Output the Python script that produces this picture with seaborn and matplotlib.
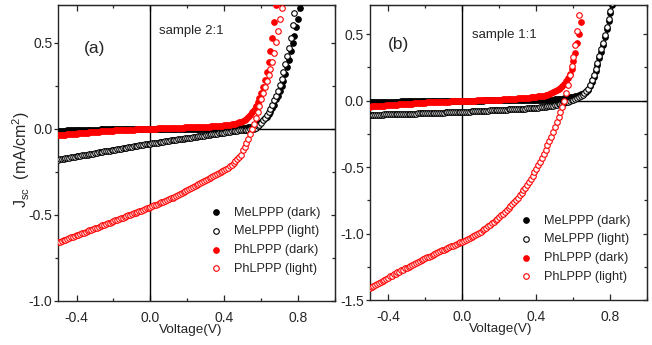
import numpy as np
import pandas as pd
import matplotlib
matplotlib.use("Agg")
import matplotlib.pyplot as plt
import seaborn as sns
from matplotlib.ticker import MultipleLocator

# bias sweep: 10 mV steps starting at -0.5 V (each curve stops where it leaves the frame)
voltage = np.round(np.arange(-0.50, 1.001, 0.01), 2)

# ---- sample 2:1 (panel a), J in mA/cm2 ----
a_me_dark = [
    -0.012, -0.012, -0.011, -0.011, -0.011, -0.010, -0.010, -0.010, -0.009, -0.009,
    -0.009, -0.008, -0.008, -0.008, -0.007, -0.007, -0.007, -0.006, -0.006, -0.006,
    -0.005, -0.005, -0.005, -0.004, -0.004, -0.004, -0.004, -0.003, -0.003, -0.003,
    -0.003, -0.002, -0.002, -0.002, -0.002, -0.002, -0.001, -0.001, -0.001, -0.001,
    -0.001, -0.001, -0.001, 0.000, 0.000, 0.000, 0.000, 0.000, 0.000, 0.000,
    0.000, 0.000, 0.000, 0.000, 0.000, 0.000, 0.000, 0.000, 0.000, 0.000,
    0.000, 0.000, 0.000, 0.000, 0.000, 0.001, 0.001, 0.001, 0.001, 0.001,
    0.001, 0.001, 0.001, 0.001, 0.001, 0.001, 0.001, 0.001, 0.001, 0.001,
    0.001, 0.001, 0.001, 0.001, 0.002, 0.002, 0.002, 0.002, 0.002, 0.002,
    0.002, 0.002, 0.002, 0.002, 0.003, 0.003, 0.003, 0.003, 0.004, 0.004,
    0.004, 0.005, 0.006, 0.008, 0.010, 0.012, 0.016, 0.020, 0.026, 0.032,
    0.040, 0.050, 0.060, 0.070, 0.085, 0.100, 0.120, 0.140, 0.170, 0.190,
    0.220, 0.250, 0.280, 0.320, 0.360, 0.400, 0.450, 0.500, 0.540, 0.590,
    0.640, 0.700, 0.760,
]
a_me_light = [
    -0.180, -0.178, -0.176, -0.174, -0.172, -0.170, -0.169, -0.167, -0.165, -0.163,
    -0.161, -0.159, -0.157, -0.155, -0.153, -0.151, -0.150, -0.148, -0.146, -0.144,
    -0.142, -0.140, -0.138, -0.136, -0.134, -0.132, -0.131, -0.129, -0.127, -0.125,
    -0.123, -0.121, -0.119, -0.117, -0.115, -0.114, -0.112, -0.110, -0.108, -0.106,
    -0.104, -0.102, -0.100, -0.098, -0.096, -0.095, -0.093, -0.091, -0.089, -0.087,
    -0.086, -0.084, -0.083, -0.081, -0.080, -0.078, -0.076, -0.075, -0.073, -0.072,
    -0.070, -0.068, -0.067, -0.065, -0.064, -0.062, -0.060, -0.059, -0.057, -0.056,
    -0.054, -0.052, -0.051, -0.049, -0.048, -0.046, -0.044, -0.043, -0.041, -0.040,
    -0.038, -0.036, -0.035, -0.033, -0.032, -0.030, -0.028, -0.027, -0.025, -0.024,
    -0.022, -0.021, -0.019, -0.018, -0.016, -0.015, -0.013, -0.012, -0.010, -0.009,
    -0.008, -0.007, -0.006, -0.005, -0.004, -0.002, 0.000, 0.006, 0.014, 0.024,
    0.036, 0.048, 0.062, 0.078, 0.095, 0.115, 0.140, 0.165, 0.190, 0.220,
    0.255, 0.290, 0.330, 0.375, 0.420, 0.470, 0.530, 0.600, 0.670, 0.740,
]
a_ph_dark = [
    -0.038, -0.037, -0.036, -0.035, -0.034, -0.033, -0.032, -0.031, -0.030, -0.029,
    -0.028, -0.027, -0.026, -0.025, -0.024, -0.023, -0.022, -0.021, -0.020, -0.019,
    -0.018, -0.017, -0.017, -0.016, -0.015, -0.014, -0.014, -0.013, -0.012, -0.012,
    -0.011, -0.010, -0.010, -0.009, -0.009, -0.008, -0.008, -0.007, -0.007, -0.006,
    -0.005, -0.005, -0.004, -0.004, -0.003, -0.003, -0.002, -0.002, -0.001, -0.001,
    0.000, 0.000, 0.001, 0.001, 0.002, 0.002, 0.002, 0.003, 0.003, 0.004,
    0.004, 0.004, 0.005, 0.005, 0.006, 0.006, 0.006, 0.007, 0.007, 0.008,
    0.008, 0.008, 0.009, 0.009, 0.010, 0.010, 0.010, 0.011, 0.011, 0.012,
    0.012, 0.013, 0.013, 0.014, 0.014, 0.015, 0.016, 0.016, 0.017, 0.018,
    0.020, 0.021, 0.022, 0.024, 0.025, 0.027, 0.030, 0.033, 0.037, 0.041,
    0.045, 0.050, 0.058, 0.068, 0.080, 0.095, 0.110, 0.130, 0.155, 0.180,
    0.210, 0.245, 0.285, 0.330, 0.385, 0.450, 0.530, 0.620, 0.720,
]
a_ph_light = [
    -0.660, -0.656, -0.652, -0.648, -0.644, -0.640, -0.635, -0.631, -0.627, -0.623,
    -0.619, -0.615, -0.611, -0.607, -0.603, -0.599, -0.594, -0.590, -0.586, -0.582,
    -0.578, -0.574, -0.570, -0.566, -0.562, -0.558, -0.553, -0.549, -0.545, -0.541,
    -0.537, -0.533, -0.529, -0.525, -0.521, -0.517, -0.512, -0.508, -0.504, -0.500,
    -0.496, -0.492, -0.488, -0.484, -0.480, -0.476, -0.471, -0.467, -0.463, -0.459,
    -0.455, -0.451, -0.446, -0.442, -0.437, -0.433, -0.428, -0.424, -0.419, -0.415,
    -0.410, -0.405, -0.400, -0.394, -0.389, -0.384, -0.378, -0.372, -0.367, -0.361,
    -0.355, -0.350, -0.344, -0.339, -0.333, -0.328, -0.322, -0.317, -0.311, -0.306,
    -0.300, -0.294, -0.289, -0.283, -0.277, -0.271, -0.265, -0.259, -0.253, -0.247,
    -0.240, -0.233, -0.226, -0.218, -0.210, -0.200, -0.189, -0.177, -0.164, -0.150,
    -0.125, -0.105, -0.082, -0.058, -0.030, 0.000, 0.030, 0.065, 0.100, 0.135,
    0.170, 0.205, 0.240, 0.275, 0.310, 0.345, 0.385, 0.440, 0.505, 0.570,
    0.635, 0.700, 0.770,
]

# ---- sample 1:1 (panel b) ----
b_me_dark = [
    -0.012, -0.012, -0.011, -0.011, -0.011, -0.010, -0.010, -0.010, -0.009, -0.009,
    -0.009, -0.008, -0.008, -0.008, -0.007, -0.007, -0.007, -0.006, -0.006, -0.006,
    -0.005, -0.005, -0.005, -0.005, -0.004, -0.004, -0.004, -0.004, -0.003, -0.003,
    -0.003, -0.003, -0.002, -0.002, -0.002, -0.002, -0.002, -0.001, -0.001, -0.001,
    -0.001, -0.001, -0.001, -0.001, 0.000, 0.000, 0.000, 0.000, 0.000, 0.000,
    0.000, 0.000, 0.000, 0.000, 0.000, 0.000, 0.000, 0.000, 0.000, 0.000,
    0.000, 0.000, 0.001, 0.001, 0.001, 0.001, 0.001, 0.001, 0.001, 0.001,
    0.001, 0.001, 0.001, 0.001, 0.001, 0.001, 0.001, 0.001, 0.001, 0.001,
    0.002, 0.002, 0.002, 0.002, 0.002, 0.002, 0.002, 0.002, 0.002, 0.002,
    0.003, 0.003, 0.003, 0.004, 0.004, 0.005, 0.005, 0.006, 0.007, 0.008,
    0.009, 0.010, 0.011, 0.013, 0.015, 0.017, 0.020, 0.023, 0.026, 0.028,
    0.030, 0.034, 0.038, 0.042, 0.047, 0.052, 0.058, 0.066, 0.082, 0.108,
    0.142, 0.180, 0.224, 0.270, 0.318, 0.368, 0.418, 0.475, 0.535, 0.595,
    0.655, 0.715,
]
b_me_light = [
    -0.108, -0.108, -0.107, -0.107, -0.106, -0.106, -0.105, -0.105, -0.104, -0.104,
    -0.103, -0.103, -0.103, -0.102, -0.102, -0.101, -0.101, -0.100, -0.100, -0.099,
    -0.099, -0.098, -0.098, -0.097, -0.097, -0.097, -0.096, -0.096, -0.095, -0.095,
    -0.094, -0.094, -0.093, -0.093, -0.092, -0.092, -0.091, -0.091, -0.091, -0.090,
    -0.090, -0.089, -0.089, -0.088, -0.088, -0.087, -0.087, -0.086, -0.086, -0.085,
    -0.085, -0.084, -0.084, -0.083, -0.082, -0.081, -0.081, -0.080, -0.079, -0.078,
    -0.078, -0.077, -0.076, -0.075, -0.075, -0.074, -0.073, -0.072, -0.072, -0.071,
    -0.070, -0.069, -0.069, -0.068, -0.067, -0.066, -0.066, -0.065, -0.064, -0.063,
    -0.063, -0.062, -0.061, -0.060, -0.060, -0.059, -0.058, -0.057, -0.057, -0.056,
    -0.055, -0.053, -0.051, -0.049, -0.047, -0.045, -0.043, -0.041, -0.039, -0.037,
    -0.035, -0.032, -0.029, -0.026, -0.022, -0.018, -0.014, -0.009, -0.004, 0.001,
    0.007, 0.013, 0.020, 0.028, 0.036, 0.045, 0.056, 0.070, 0.090, 0.120,
    0.155, 0.195, 0.240, 0.285, 0.335, 0.385, 0.435, 0.495, 0.555, 0.615,
    0.675, 0.735,
]
b_ph_dark = [
    -0.045, -0.044, -0.043, -0.042, -0.041, -0.040, -0.039, -0.038, -0.037, -0.036,
    -0.035, -0.034, -0.033, -0.032, -0.031, -0.030, -0.029, -0.028, -0.027, -0.026,
    -0.025, -0.024, -0.023, -0.022, -0.021, -0.020, -0.019, -0.018, -0.017, -0.016,
    -0.015, -0.014, -0.014, -0.013, -0.012, -0.012, -0.011, -0.010, -0.010, -0.009,
    -0.008, -0.008, -0.007, -0.007, -0.006, -0.006, -0.005, -0.005, -0.004, -0.004,
    -0.003, -0.003, -0.002, -0.002, -0.001, -0.001, 0.000, 0.000, 0.001, 0.001,
    0.002, 0.002, 0.003, 0.003, 0.004, 0.004, 0.005, 0.005, 0.006, 0.007,
    0.008, 0.008, 0.009, 0.010, 0.010, 0.011, 0.012, 0.013, 0.014, 0.015,
    0.016, 0.017, 0.018, 0.019, 0.020, 0.021, 0.022, 0.024, 0.026, 0.028,
    0.030, 0.032, 0.034, 0.036, 0.038, 0.040, 0.045, 0.050, 0.056, 0.063,
    0.070, 0.078, 0.087, 0.097, 0.110, 0.125, 0.145, 0.170, 0.200, 0.240,
    0.300, 0.360, 0.430, 0.500, 0.590,
]
b_ph_light = [
    -1.410, -1.402, -1.394, -1.386, -1.378, -1.370, -1.362, -1.354, -1.346, -1.338,
    -1.330, -1.322, -1.315, -1.307, -1.300, -1.292, -1.285, -1.277, -1.270, -1.262,
    -1.255, -1.248, -1.241, -1.234, -1.227, -1.220, -1.213, -1.206, -1.199, -1.192,
    -1.185, -1.178, -1.172, -1.165, -1.159, -1.152, -1.146, -1.139, -1.133, -1.126,
    -1.120, -1.114, -1.108, -1.102, -1.096, -1.090, -1.084, -1.078, -1.072, -1.066,
    -1.060, -1.053, -1.045, -1.038, -1.030, -1.023, -1.015, -1.008, -1.000, -0.993,
    -0.985, -0.975, -0.965, -0.955, -0.945, -0.934, -0.923, -0.912, -0.900, -0.888,
    -0.876, -0.863, -0.850, -0.836, -0.822, -0.808, -0.793, -0.778, -0.762, -0.746,
    -0.729, -0.712, -0.694, -0.675, -0.655, -0.634, -0.612, -0.589, -0.565, -0.540,
    -0.514, -0.487, -0.459, -0.430, -0.400, -0.369, -0.337, -0.304, -0.270, -0.235,
    -0.199, -0.162, -0.124, -0.085, -0.045, -0.004, 0.060, 0.120, 0.190, 0.260,
    0.330, 0.420, 0.520, 0.640, 0.760,
]

series_names = ["MeLPPP (dark)", "MeLPPP (light)", "PhLPPP (dark)", "PhLPPP (light)"]
series_colors = ["black", "black", "red", "red"]
series_filled = [True, False, True, False]


def to_frame(curves):
    parts = []
    for name, j in zip(series_names, curves):
        parts.append(pd.DataFrame({"Voltage": voltage[:len(j)], "J": j, "series": name}))
    return pd.concat(parts, ignore_index=True)


df_a = to_frame([a_me_dark, a_me_light, a_ph_dark, a_ph_light])
df_b = to_frame([b_me_dark, b_me_light, b_ph_dark, b_ph_light])

sns.set_style("ticks")
plt.rcParams["font.family"] = ["Liberation Sans", "DejaVu Sans"]
plt.rcParams["axes.unicode_minus"] = False
plt.rcParams["mathtext.fontset"] = "custom"
plt.rcParams["mathtext.rm"] = "Liberation Sans"
plt.rcParams["mathtext.it"] = "Liberation Sans:italic"

fig = plt.figure(figsize=(6.52, 3.45), dpi=100)
ax_a = fig.add_axes([0.089, 0.128, 0.425, 0.858])
ax_b = fig.add_axes([0.567, 0.130, 0.426, 0.856])


def draw_panel(ax, df, ylim, tag, tag_xy, sample, sample_xy, leg_anchor, xlab_x):
    ax.axhline(0, color="black", lw=1.0, zorder=1)
    ax.axvline(0, color="black", lw=1.0, zorder=1)
    for name, c, filled in zip(series_names, series_colors, series_filled):
        sub = df[df["series"] == name]
        sns.scatterplot(data=sub, x="Voltage", y="J", ax=ax, s=16, marker="o",
                        color=c, edgecolor=c, facecolor=c if filled else "white",
                        linewidth=0.8, label=name, zorder=3)
    ax.set_xlim(-0.5, 1.0)
    ax.set_ylim(*ylim)
    ax.xaxis.set_major_locator(MultipleLocator(0.4))
    ax.xaxis.set_minor_locator(MultipleLocator(0.2))
    ax.yaxis.set_major_locator(MultipleLocator(0.5))
    ax.yaxis.set_minor_locator(MultipleLocator(0.25))
    ax.xaxis.set_major_formatter(lambda v, p: f"{v:.1f}")
    ax.yaxis.set_major_formatter(lambda v, p: f"{v:.1f}")
    ax.tick_params(axis="x", which="both", direction="in", labelsize=10, pad=7)
    ax.tick_params(axis="y", which="both", direction="out", labelsize=10, pad=0.8)
    ax.tick_params(axis="x", which="major", length=4, width=0.9)
    ax.tick_params(axis="x", which="minor", length=2.2, width=0.9)
    ax.tick_params(axis="y", which="major", length=3.2, width=0.9)
    ax.tick_params(axis="y", which="minor", length=2.0, width=0.9)
    # mirrored ticks on the top and right frame
    top = ax.secondary_xaxis("top")
    top.xaxis.set_major_locator(MultipleLocator(0.4))
    top.xaxis.set_minor_locator(MultipleLocator(0.2))
    top.tick_params(which="both", direction="in", labeltop=False)
    top.tick_params(which="major", length=4, width=0.9)
    top.tick_params(which="minor", length=2.2, width=0.9)
    right = ax.secondary_yaxis("right")
    right.yaxis.set_major_locator(MultipleLocator(0.5))
    right.yaxis.set_minor_locator(MultipleLocator(0.25))
    right.tick_params(which="both", direction="in", labelright=False)
    right.tick_params(which="major", length=3, width=0.9)
    right.tick_params(which="minor", length=2, width=0.9)
    for sp in ax.spines.values():
        sp.set_linewidth(1.0)
    ax.set_xlabel("Voltage(V)", fontsize=9.7)
    ax.xaxis.set_label_coords(xlab_x, -0.079)
    ax.set_ylabel("")
    ax.text(*tag_xy, tag, fontsize=12.5)
    ax.text(*sample_xy, sample, fontsize=9.5)
    ax.legend(loc="upper left", bbox_to_anchor=leg_anchor, frameon=False,
              fontsize=9.2, handletextpad=0.9, labelspacing=0.52,
              handlelength=1.0, borderaxespad=0)


draw_panel(ax_a, df_a, (-1.0, 0.72), "(a)", (-0.36, 0.44), "sample 2:1", (0.045, 0.55),
           (0.53, 0.335), 0.477)
draw_panel(ax_b, df_b, (-1.5, 0.72), "(b)", (-0.40, 0.39), "sample 1:1", (0.05, 0.47),
           (0.523, 0.307), 0.471)
ax_a.set_ylabel(r"J$_{\mathrm{sc}}$  (mA/cm$^{\mathrm{2}}$)", fontsize=11.5)
ax_a.yaxis.set_label_coords(-0.095, 0.478)

fig.savefig("out.png", dpi=100)
